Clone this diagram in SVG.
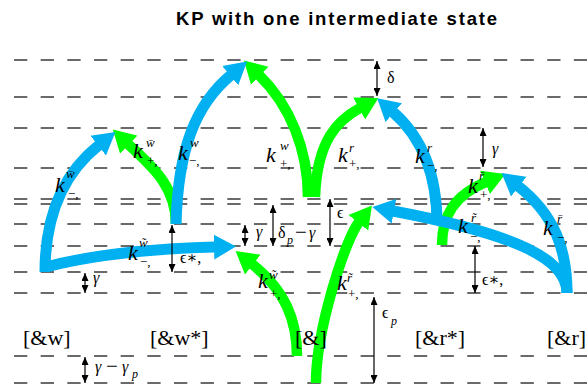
<svg xmlns="http://www.w3.org/2000/svg" width="587" height="387" viewBox="0 0 587 387">
<defs>
<style>
.lv{stroke:#3a3a3a;stroke-width:1.5;stroke-dasharray:13.33 13.33;fill:none}
.b{stroke:#00B0F0;stroke-width:11;fill:none;marker-end:url(#hb)}
.g{stroke:#00FF00;stroke-width:10.5;fill:none;marker-end:url(#hg)}
.d{stroke:#000;stroke-width:1.2;fill:none;marker-start:url(#ah);marker-end:url(#ah)}
text{font-family:"Liberation Serif","DejaVu Serif",serif;fill:#000}
.k{font-size:22px;font-style:italic}
.sup{font-size:13px;font-style:italic}
.sub{font-size:13px}
.gr{font-size:16px}
.mn{font-size:21px}
.gs{font-size:12px;font-style:italic}
.it{font-style:italic}
.st{font-size:22px}
.title{font-family:"Liberation Sans",Arial,sans-serif;font-weight:bold;font-size:18.5px}
</style>
<marker id="hb" markerUnits="userSpaceOnUse" viewBox="-1 -13 23 26" markerWidth="23" markerHeight="26" refX="0" refY="0" orient="auto"><path d="M-1,-12.5 L21,0 L-1,12.5 z" fill="#00B0F0"/></marker>
<marker id="hg" markerUnits="userSpaceOnUse" viewBox="-1 -13 23 26" markerWidth="23" markerHeight="26" refX="0" refY="0" orient="auto"><path d="M-1,-12.5 L21,0 L-1,12.5 z" fill="#00FF00"/></marker>
<marker id="ah" markerUnits="userSpaceOnUse" viewBox="0 -3.5 8 7" markerWidth="8" markerHeight="7" refX="8" refY="0" orient="auto-start-reverse"><path d="M0,-3.5 L8,0 L0,3.5 z" fill="#000"/></marker>
</defs>

<text class="title" x="176" y="25" textLength="321" lengthAdjust="spacing">KP with one intermediate state</text>

<g id="levels">
<line class="lv" x1="14" y1="60" x2="587" y2="60"/>
<line class="lv" x1="14" y1="97" x2="587" y2="97"/>
<line class="lv" x1="14" y1="128" x2="587" y2="128"/>
<line class="lv" x1="14" y1="168" x2="587" y2="168"/>
<line class="lv" x1="14" y1="199" x2="587" y2="199"/>
<line class="lv" x1="14" y1="204" x2="587" y2="204"/>
<line class="lv" x1="14" y1="224" x2="587" y2="224"/>
<line class="lv" x1="14" y1="246" x2="587" y2="246"/>
<line class="lv" x1="14" y1="272" x2="587" y2="272"/>
<line class="lv" x1="14" y1="293" x2="587" y2="293"/>
<line class="lv" x1="14" y1="356" x2="587" y2="356"/>
<line class="lv" x1="14" y1="383" x2="587" y2="383"/>
</g>

<g id="connectors">
<path class="g" d="M176,224 C176,185 150,165 128,144"/>
<path class="g" d="M308,197 C308,150 290,105 259,75"/>
<path class="g" d="M315,197 C317,140 338,120 360,108"/>
<path class="g" d="M442,245 C442,215 455,195 486,182"/>
<path class="g" d="M297,356 C297,320 285,290 252,264"/>
<path class="g" d="M316,383 C316,330 345,240 359,222"/>
<path class="b" d="M45,272 C45,205 70,168 99,145"/>
<path class="b" d="M46,267 Q110,250 215,247"/>
<path class="b" d="M176,224 C178,150 195,105 231,75"/>
<path class="b" d="M437,224 C437,180 425,140 393,112"/>
<path class="b" d="M567,293 C567,250 555,215 518,186"/>
<path class="b" d="M567,293 C567,260 520,235 393,211"/>
</g>

<g id="gaps">
<line class="d" x1="85" y1="273" x2="85" y2="293"/>
<line class="d" x1="85" y1="357" x2="85" y2="383"/>
<line class="d" x1="172" y1="225" x2="172" y2="272"/>
<line class="d" x1="245" y1="225" x2="245" y2="246"/>
<line class="d" x1="273" y1="205" x2="273" y2="246"/>
<line class="d" x1="330" y1="199" x2="330" y2="246"/>
<line class="d" x1="374" y1="297" x2="374" y2="383"/>
<line class="d" x1="377" y1="61" x2="377" y2="96"/>
<line class="d" x1="483" y1="128" x2="483" y2="167"/>
<line class="d" x1="475" y1="246" x2="475" y2="293"/>
<text class="gr it" x="93" y="283">γ</text>
<text class="gr"><tspan class="it" x="95" y="372">γ</tspan><tspan class="mn" x="106" y="373">−</tspan><tspan class="it" x="122" y="372">γ</tspan><tspan class="gs" x="132" y="378">p</tspan></text>
<text class="gr" x="180" y="263">ϵ∗,</text>
<text class="gr it" x="256" y="237">γ</text>
<text class="gr"><tspan x="278" y="238">δ</tspan><tspan class="gs" x="287" y="244">p</tspan><tspan class="mn" x="295" y="239">−</tspan><tspan class="it" x="309" y="238">γ</tspan></text>
<text class="gr" x="337" y="218">ϵ</text>
<text class="gr"><tspan x="382" y="318">ϵ</tspan><tspan class="gs" x="391" y="325">p</tspan></text>
<text class="gr" x="387" y="83">δ</text>
<text class="gr it" x="492" y="154">γ</text>
<text class="gr" x="482" y="285">ϵ∗,</text>
</g>

<g id="rate-labels">
<text><tspan class="k" x="55" y="192">k</tspan><tspan class="sup" x="66" y="178">w&#x304;</tspan><tspan class="sub" x="68" y="198">−,</tspan></text>
<text><tspan class="k" x="133" y="158">k</tspan><tspan class="sup" x="146" y="147">w&#x304;</tspan><tspan class="sub" x="147" y="165">+,</tspan></text>
<text><tspan class="k" x="178" y="160">k</tspan><tspan class="sup" x="190" y="147">w</tspan><tspan class="sub" x="189" y="165">−,</tspan></text>
<text><tspan class="k" x="266" y="162">k</tspan><tspan class="sup" x="280" y="150">w</tspan><tspan class="sub" x="280" y="168">+,</tspan></text>
<text><tspan class="k" x="338" y="162">k</tspan><tspan class="sup" x="349" y="152">r</tspan><tspan class="sub" x="349" y="168">+,</tspan></text>
<text><tspan class="k" x="415" y="163">k</tspan><tspan class="sup" x="427" y="152">r</tspan><tspan class="sub" x="427" y="170">−,</tspan></text>
<text><tspan class="k" x="468" y="193">k</tspan><tspan class="sup" x="479" y="180">r&#x304;</tspan><tspan class="sub" x="480" y="199">+,</tspan></text>
<text><tspan class="k" x="458" y="233">k</tspan><tspan class="sup" x="471" y="222">r&#x303;</tspan><tspan class="sub" x="470" y="241">−,</tspan></text>
<text><tspan class="k" x="543" y="235">k</tspan><tspan class="sup" x="557" y="223">r&#x304;</tspan><tspan class="sub" x="557" y="242">−,</tspan></text>
<text><tspan class="k" x="128" y="260">k</tspan><tspan class="sup" x="139" y="247">w&#x303;</tspan><tspan class="sub" x="140" y="266">−,</tspan></text>
<text><tspan class="k" x="258" y="288">k</tspan><tspan class="sup" x="269" y="279">w&#x303;</tspan><tspan class="sub" x="270" y="298">+,</tspan></text>
<text><tspan class="k" x="337" y="290">k</tspan><tspan class="sup" x="347" y="282">r&#x303;</tspan><tspan class="sub" x="348" y="298">+,</tspan></text>
</g>

<g id="node-w"><text class="st" x="23" y="345">[&amp;w]</text></g>
<g id="node-wstar"><text class="st" x="150" y="345">[&amp;w*]</text></g>
<g id="node-amp"><text class="st" x="295" y="345">[&amp;]</text></g>
<g id="node-rstar"><text class="st" x="415" y="345">[&amp;r*]</text></g>
<g id="node-r"><text class="st" x="547" y="345">[&amp;r]</text></g>
</svg>
